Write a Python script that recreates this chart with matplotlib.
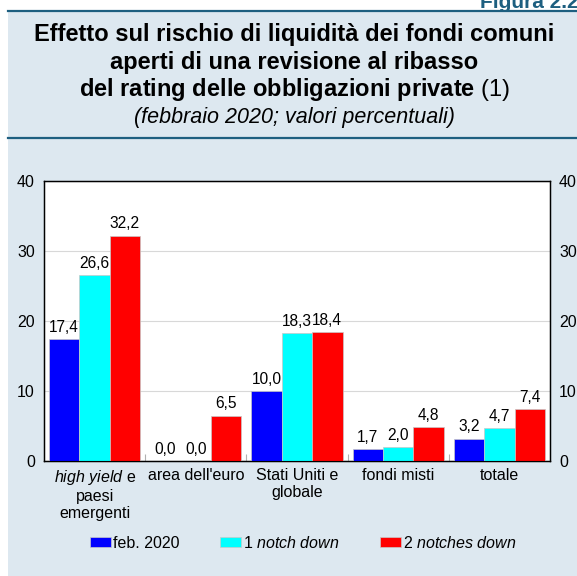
import numpy as np
import matplotlib.pyplot as plt
from matplotlib.patches import Rectangle
from matplotlib.lines import Line2D

plt.rcParams['font.family'] = ['Liberation Sans', 'DejaVu Sans']
plt.rcParams['mathtext.fontset'] = 'custom'
plt.rcParams['mathtext.rm'] = 'Liberation Sans'
plt.rcParams['mathtext.it'] = 'Liberation Sans:italic'
plt.rcParams['mathtext.bf'] = 'Liberation Sans:bold'

# Data
categories = ['$high\\ yield$ e\npaesi\nemergenti', "area dell'euro",
              'Stati Uniti e\nglobale', 'fondi misti', 'totale']
series_names = ['feb. 2020', '1 $notch\\ down$', '2 $notches\\ down$']
feb_2020 = [17.4, 0.0, 10.0, 1.7, 3.2]
one_notch = [26.6, 0.0, 18.3, 2.0, 4.7]
two_notches = [32.2, 6.5, 18.4, 4.8, 7.4]
colors = ['#0000ff', '#00ffff', '#ff0000']
yticks = [0, 10, 20, 30, 40]

W, H = 577, 576
fig = plt.figure(figsize=(W / 100, H / 100), dpi=100, facecolor='white')

# light blue panel with the dark rules of the title band
bg = '#dde8f0'
rule = '#1d5f80'
fig.patches.append(Rectangle((8 / W, 0), 1, 1 - 11 / H, transform=fig.transFigure,
                             facecolor=bg, edgecolor='none', zorder=-5))
fig.add_artist(Line2D([8 / W, 1], [1 - 11 / H] * 2, color=rule, lw=1.6))
fig.add_artist(Line2D([8 / W, 1], [1 - 137.5 / H] * 2, color=rule, lw=1.6))

fig.text(480 / W, 1 - 8 / H, 'Figura 2.2', fontsize=15, fontweight='bold',
         color=rule, ha='left', va='baseline')

cx = 0.5 * (8 + W) / W + 2 / W
title_lines = ['Effetto sul rischio di liquidità dei fondi comuni',
               'aperti di una revisione al ribasso']
for i, line in enumerate(title_lines):
    fig.text(cx, 1 - (41.5 + 27 * i) / H, line, fontsize=17,
             fontweight='bold', ha='center', va='baseline')
fig.text(cx, 1 - 96 / H,
         r'del rating delle obbligazioni private$\mathrm{\ (1)}$',
         fontsize=17, fontweight='bold', ha='center', va='baseline')
fig.text(cx, 1 - 123 / H, '(febbraio 2020; valori percentuali)',
         fontsize=15.5, style='italic', ha='center', va='baseline')

ax = fig.add_axes([44 / W, 1 - 461 / H, 506 / W, 280 / H])
ax.set_facecolor('white')

x = np.arange(len(categories))
width = 0.3
for k, (vals, name) in enumerate(zip([feb_2020, one_notch, two_notches], series_names)):
    bars = ax.bar(x + (k - 1) * width, vals, width, color=colors[k], label=name,
                  edgecolor='#c8c8c8', linewidth=0.5, zorder=3)
    for b, v in zip(bars, vals):
        ax.annotate(f'{v:.1f}'.replace('.', ','),
                    (b.get_x() + b.get_width() / 2, v), xytext=(0, 3),
                    textcoords='offset points', ha='center', va='bottom',
                    fontsize=11.2)

ax.set_xlim(-0.5, len(categories) - 0.5)
ax.set_ylim(0, 40)
ax.set_yticks(yticks)
ax.tick_params(axis='y', length=0, labelsize=11.5, pad=6.5)
ax.grid(axis='y', color='#d8d8d8', lw=0.8, zorder=0)
ax.set_xticks(x)
ax.set_xticklabels(categories, fontsize=11.5, linespacing=1.15)
ax.tick_params(axis='x', which='major', length=0, pad=5)
ax.set_xticks(np.arange(0.5, len(categories) - 0.5, 1), minor=True)
ax.tick_params(axis='x', which='minor', direction='in', length=5,
               color='#b0b0b0', width=0.8)
for s in ax.spines.values():
    s.set_color('black')
    s.set_linewidth(1)

ax2 = ax.twinx()
ax2.set_ylim(ax.get_ylim())
ax2.set_yticks(yticks)
ax2.tick_params(axis='y', length=0, labelsize=11.5, pad=6.5)

ax.legend(loc='center', bbox_to_anchor=(303 / W, 1 - 543 / H), bbox_transform=fig.transFigure,
          ncol=3, frameon=False, fontsize=11.5, handlelength=1.31, handleheight=0.56,
          handletextpad=0.12, columnspacing=2.56, borderpad=0, borderaxespad=0)

fig.savefig('out.png', dpi=100, facecolor=fig.get_facecolor())
